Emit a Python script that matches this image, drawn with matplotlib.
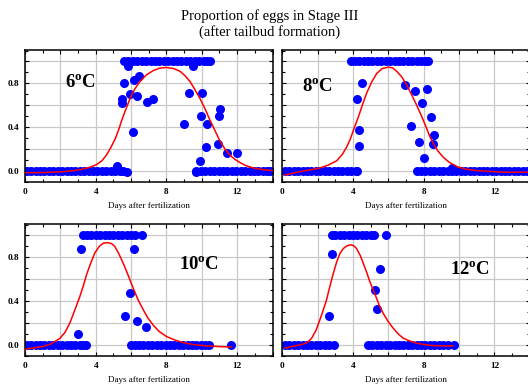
import numpy as np
import matplotlib
matplotlib.use('Agg')
import matplotlib.pyplot as plt
from matplotlib.ticker import MultipleLocator, FuncFormatter

plt.rcParams['font.family'] = 'Liberation Serif'
plt.rcParams['mathtext.fontset'] = 'custom'
plt.rcParams['mathtext.bf'] = 'Liberation Serif:bold'
plt.rcParams['mathtext.rm'] = 'Liberation Serif'

# ---- data (days after fertilization, proportion) ----
labels = ['6', '8', '10', '12']

# 6 C
x0_6 = [0.1, 0.35, 0.6, 0.85, 1.1, 1.35, 1.6, 1.85, 2.1, 2.35, 2.6, 2.85, 3.1, 3.35, 3.6,
        3.85, 4.1, 4.35, 4.6, 4.85, 5.1, 5.35, 5.55,
        9.7, 9.95, 10.2, 10.45, 10.7, 10.95, 11.2, 11.45, 11.7, 11.95, 12.2, 12.45, 12.7,
        12.95, 13.2, 13.45, 13.7, 13.85]
x1_6 = [5.6, 5.85, 6.1, 6.35, 6.6, 6.85, 7.1, 7.35, 7.6, 7.85, 8.1, 8.35, 8.6, 8.85, 9.1,
        9.35, 9.6, 9.85, 10.1, 10.3, 10.45]
xm_6 = [5.6, 5.5, 5.47, 5.94, 6.19, 6.47, 6.36, 6.13, 6.89, 7.23, 9.02, 9.3, 10.0, 9.96, 10.28,
        10.25, 11.04, 10.98, 10.89, 11.42, 11.98, 5.19, 5.75, 5.85, 9.5, 9.9, 9.7]
ym_6 = [0.8, 0.66, 0.615, 0.70, 0.83, 0.87, 0.68, 0.355, 0.63, 0.66, 0.425, 0.714, 0.714, 0.50, 0.425,
        0.215, 0.56, 0.50, 0.24, 0.16, 0.16, 0.04, -0.01, 0.955, 0.955, 0.086, -0.01]
cx_6 = [0, 1, 2, 2.8, 3.3, 3.7, 4.05, 4.35, 4.6, 4.85, 5.1, 5.3, 5.47, 5.7, 5.94, 6.2, 6.5, 6.85,
        7.26, 7.6, 8.0, 8.4, 8.77, 9.05, 9.34, 9.6, 9.9, 10.2, 10.47, 10.75, 11.0, 11.3, 11.6,
        11.9, 12.2, 12.5, 12.9, 13.4, 14]
cy_6 = [-0.02, -0.018, -0.012, 0.0, 0.015, 0.032, 0.055, 0.09, 0.14, 0.21, 0.29, 0.375, 0.46, 0.56,
        0.66, 0.745, 0.815, 0.875, 0.917, 0.938, 0.945, 0.935, 0.91, 0.87, 0.815, 0.745, 0.66,
        0.56, 0.46, 0.365, 0.28, 0.2, 0.14, 0.1, 0.07, 0.045, 0.025, 0.01, 0.0]

# 8 C
x0_8 = [0.15, 0.4, 0.65, 0.9, 1.15, 1.4, 1.65, 1.9, 2.15, 2.4, 2.65, 2.9, 3.15, 3.4, 3.65, 3.9,
        4.15, 4.25,
        7.6, 7.85, 8.1, 8.35, 8.6, 8.85, 9.1, 9.35, 9.6, 9.85, 10.1, 10.35, 10.6, 10.85, 11.1,
        11.35, 11.6, 11.85, 12.1, 12.35, 12.6, 12.85, 13.1, 13.35, 13.6, 13.85]
x1_8 = [3.87, 4.1, 4.35, 4.6, 4.85, 5.1, 5.35, 5.6, 5.85, 6.1, 6.35, 6.6, 6.85, 7.1, 7.35, 7.6,
        7.85, 8.1, 8.26]
xm_8 = [4.49, 4.25, 4.32, 4.36, 6.94, 7.53, 8.17, 7.92, 7.26, 7.75, 8.43, 8.6, 8.5, 8.02, 9.58]
ym_8 = [0.806, 0.66, 0.375, 0.225, 0.785, 0.73, 0.745, 0.62, 0.405, 0.26, 0.49, 0.326, 0.24,
        0.117, 0.02]
cx_8 = [0.15, 1, 1.5, 2.04, 2.6, 3.08, 3.4, 3.64, 3.85, 4.02, 4.3, 4.55, 4.77, 5.05, 5.34, 5.65,
        6.0, 6.25, 6.47, 6.75, 7.04, 7.3, 7.6, 7.9, 8.17, 8.35, 8.55, 8.8, 9.1, 9.45, 9.87, 10.4,
        11, 12.5, 14]
cy_8 = [-0.04, -0.01, 0.005, 0.02, 0.05, 0.09, 0.15, 0.215, 0.29, 0.37, 0.49, 0.61, 0.71, 0.81,
        0.89, 0.935, 0.948, 0.94, 0.91, 0.86, 0.785, 0.7, 0.6, 0.49, 0.385, 0.31, 0.246, 0.18,
        0.123, 0.075, 0.037, 0.012, 0.0, -0.015, -0.015]

# 10 C
x0_10 = [0.1, 0.35, 0.6, 0.85, 1.1, 1.35, 1.6, 1.85, 2.1, 2.35, 2.6, 2.85, 3.1, 3.3, 3.45,
         5.99, 6.2, 6.45, 6.7, 6.95, 7.2, 7.45, 7.7, 7.95, 8.2, 8.45, 8.7, 8.95, 9.2, 9.45, 9.7,
         9.95, 10.2, 10.41, 11.64]
x1_10 = [3.26, 3.5, 3.75, 4.0, 4.25, 4.5, 4.75, 5.0, 5.25, 5.5, 5.75, 6.0, 6.21, 6.61]
xm_10 = [3.16, 6.16, 5.93, 5.67, 6.33, 6.84, 2.98]
ym_10 = [0.873, 0.873, 0.478, 0.265, 0.213, 0.167, 0.1]
cx_10 = [0, 0.5, 1.04, 1.5, 1.98, 2.25, 2.54, 2.8, 3.1, 3.3, 3.48, 3.7, 3.95, 4.2, 4.43, 4.7,
         4.9, 5.08, 5.3, 5.56, 5.85, 6.12, 6.4, 6.69, 6.95, 7.25, 7.6, 8.0, 8.45, 8.95, 9.6,
         10.26, 11.0, 11.68]
cy_10 = [-0.04, -0.028, -0.015, 0.01, 0.06, 0.11, 0.2, 0.31, 0.44, 0.54, 0.64, 0.74, 0.84, 0.9,
         0.93, 0.934, 0.925, 0.9, 0.835, 0.745, 0.63, 0.517, 0.41, 0.32, 0.245, 0.18, 0.12,
         0.076, 0.045, 0.02, 0.0, -0.01, -0.017, -0.02]

# 12 C
x0_12 = [0.15, 0.4, 0.65, 0.9, 1.15, 1.4, 1.65, 1.9, 2.15, 2.4, 2.65, 2.92,
         4.86, 5.1, 5.35, 5.6, 5.85, 6.1, 6.35, 6.6, 6.85, 7.1, 7.35, 7.6, 7.85, 8.1, 8.35,
         8.6, 8.85, 9.1, 9.35, 9.7]
x1_12 = [2.79, 3.0, 3.25, 3.5, 3.75, 4.0, 4.25, 4.5, 4.75, 5.0, 5.18, 5.88]
xm_12 = [2.79, 2.66, 5.54, 5.24, 5.37]
ym_12 = [0.833, 0.265, 0.69, 0.5, 0.33]
cx_12 = [0.15, 0.7, 1.19, 1.45, 1.66, 1.9, 2.13, 2.3, 2.5, 2.7, 2.88, 3.08, 3.26, 3.45, 3.63,
         3.8, 3.92, 4.05, 4.2, 4.4, 4.58, 4.78, 4.95, 5.15, 5.33, 5.5, 5.7, 6.0, 6.27, 6.55,
         6.84, 7.2, 7.59, 8.1, 8.72, 9.66]
cy_12 = [-0.03, -0.01, 0.006, 0.025, 0.06, 0.13, 0.23, 0.31, 0.41, 0.54, 0.65, 0.76, 0.836,
         0.88, 0.903, 0.913, 0.913, 0.905, 0.88, 0.82, 0.745, 0.66, 0.578, 0.5, 0.426, 0.355,
         0.29, 0.21, 0.152, 0.1, 0.06, 0.035, 0.015, 0.0, -0.01, -0.01]

panels = [
    (x0_6, x1_6, xm_6, ym_6, cx_6, cy_6),
    (x0_8, x1_8, xm_8, ym_8, cx_8, cy_8),
    (x0_10, x1_10, xm_10, ym_10, cx_10, cy_10),
    (x0_12, x1_12, xm_12, ym_12, cx_12, cy_12),
]

# ---- layout ----
W, H = 528, 386
fig = plt.figure(figsize=(W / 100, H / 100), dpi=100)

boxes = [(25, 50, 247.5, 131.5), (282.3, 50, 247.5, 131.5),
         (25, 224, 247.5, 131.7), (282.3, 224, 247.5, 131.7)]
lab_pos = [(2.26, 0.81), (1.1, 0.775), (8.7, 0.73), (9.5, 0.69)]


def fmt_x(v, pos):
    return '%d' % v if abs(v % 4) < 1e-6 else ''


def fmt_y(v, pos):
    r = round(v / 0.4)
    return '%.1f' % v if abs(v - r * 0.4) < 1e-6 else ''


for i, (x0, x1, xm, ym, cx, cy) in enumerate(panels):
    l, t, w, h = boxes[i]
    ax = fig.add_axes([l / W, 1 - (t + h) / H, w / W, h / H])
    ax.set_xlim(0, 14)
    ax.set_ylim(-0.1, 1.105)

    ax.xaxis.set_major_locator(MultipleLocator(2))
    ax.xaxis.set_minor_locator(MultipleLocator(1))
    ax.yaxis.set_major_locator(MultipleLocator(0.2))
    ax.yaxis.set_minor_locator(MultipleLocator(0.1))
    ax.xaxis.set_major_formatter(FuncFormatter(fmt_x))
    ax.yaxis.set_major_formatter(FuncFormatter(fmt_y))
    ax.tick_params(which='both', direction='in', top=True, right=True, width=0.8,
                   labelsize=6.7)
    ax.tick_params(which='major', length=3, pad=4.5)
    ax.tick_params(which='minor', length=2)
    if i % 2 == 1:
        ax.tick_params(labelleft=False)
    for lab in ax.get_xticklabels() + ax.get_yticklabels():
        lab.set_fontweight('bold')
    ax.grid(True, which='major', color='#c8c8c8', lw=0.9)
    ax.set_axisbelow(True)
    for s in ax.spines.values():
        s.set_linewidth(1.1)

    ms = 6.5
    ax.plot(x0, np.zeros(len(x0)), 'o', color='blue', ms=ms, mec='none', zorder=2)
    ax.plot(x1, np.ones(len(x1)), 'o', color='blue', ms=ms, mec='none', zorder=2)
    ax.plot(xm, ym, 'o', color='blue', ms=ms, mec='none', zorder=2)
    ax.plot(cx, cy, '-', color='red', lw=1.1, zorder=3)

    ax.set_xlabel('Days after fertilization', fontsize=6.5, labelpad=4.5)
    tx, ty = lab_pos[i]
    ax.text(tx, ty, r'$\mathbf{%s^{o}C}$' % labels[i], fontsize=13.5, ha='left', va='center')

fig.text(0.511, 1 - 24 / H, 'Proportion of eggs in Stage III\n(after tailbud formation)',
         ha='center', va='center', fontsize=10.5, linespacing=1.15)

fig.savefig('out.png', dpi=100)
